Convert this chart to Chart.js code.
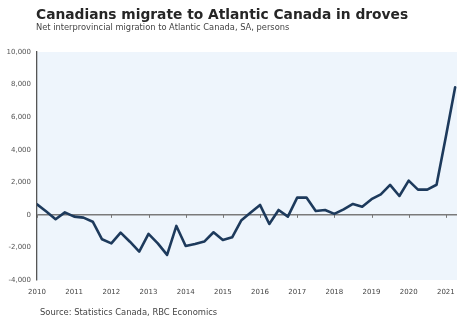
<!DOCTYPE html>
<html>
<head>
<meta charset="utf-8">
<script src="https://cdn.jsdelivr.net/npm/chart.js@4"></script>
<style>
  html, body { margin: 0; padding: 0; background: #fff; }
  #wrap { position: relative; width: 463px; height: 326px; overflow: hidden; }
  #c { position: absolute; left: 0; top: 0; }
  .txt { position: absolute; white-space: nowrap; font-family: "DejaVu Sans", sans-serif; }
  #title { left: 36px; top: 6px; font-size: 13.8px; font-weight: bold; color: #262626; }
  #sub { left: 36px; top: 22px; font-size: 8.3px; color: #444; }
  #src { left: 40px; top: 307px; font-size: 8.4px; color: #444; }
</style>
</head>
<body>
<div id="wrap">
  <canvas id="c" width="463" height="326"></canvas>
  <div class="txt" id="title">Canadians migrate to Atlantic Canada in droves</div>
  <div class="txt" id="sub">Net interprovincial migration to Atlantic Canada, SA, persons</div>
  <div class="txt" id="src">Source: Statistics Canada, RBC Economics</div>
</div>
<script>
  // quarterly, 2010Q1 - 2021Q2
  var quarters = [];
  for (var y = 2010; y <= 2021; y++) {
    for (var q = 0; q < 4; q++) quarters.push(y + q / 4);
  }
  quarters = quarters.slice(0, 46);

  var migration = [
    650, 200, -270, 150,
    -110, -170, -420, -1500,
    -1750, -1090, -1650, -2260,
    -1170, -1750, -2460, -680,
    -1910, -1790, -1640, -1070,
    -1540, -1380, -330, 150,
    610, -560, 300, -110,
    1060, 1060, 240, 300,
    60, 340, 670, 500,
    960, 1260, 1840, 1160,
    2100, 1550, 1550, 1850,
    4800, 7830
  ];

  var yearTicks = [2010, 2011, 2012, 2013, 2014, 2015, 2016, 2017, 2018, 2019, 2020, 2021];
  var yTicks = [-4000, -2000, 0, 2000, 4000, 6000, 8000, 10000];

  var points = quarters.map(function (x, i) { return { x: x, y: migration[i] }; });

  var plotBg = {
    id: 'plotBg',
    beforeDraw: function (chart) {
      var a = chart.chartArea, ctx = chart.ctx;
      ctx.save();
      ctx.fillStyle = '#eef5fc';
      ctx.fillRect(a.left, a.top, a.right - a.left, a.bottom - a.top);
      ctx.restore();
    }
  };

  var zeroTicks = {
    id: 'zeroTicks',
    beforeDatasetsDraw: function (chart) {
      var xs = chart.scales.x, ys = chart.scales.y, ctx = chart.ctx;
      var y0 = ys.getPixelForValue(0);
      ctx.save();
      ctx.strokeStyle = '#777';
      ctx.lineWidth = 1;
      yearTicks.forEach(function (v) {
        var px = Math.round(xs.getPixelForValue(v)) + 0.5;
        ctx.beginPath();
        ctx.moveTo(px, y0);
        ctx.lineTo(px, y0 + 3);
        ctx.stroke();
      });
      ctx.restore();
    }
  };

  new Chart(document.getElementById('c'), {
    type: 'line',
    data: {
      datasets: [{
        data: points,
        borderColor: '#1d3a5c',
        borderWidth: 2.6,
        pointRadius: 0,
        tension: 0,
        borderJoinStyle: 'round',
        borderCapStyle: 'round'
      }]
    },
    options: {
      responsive: false,
      animation: false,
      layout: { padding: { left: 0, right: 6, top: 52, bottom: 0 } },
      plugins: { legend: { display: false }, tooltip: { enabled: false } },
      scales: {
        x: {
          type: 'linear',
          min: 2010,
          max: 2021.3,
          afterBuildTicks: function (s) { s.ticks = yearTicks.map(function (v) { return { value: v }; }); },
          afterFit: function (s) { s.height = 46; },
          grid: { display: false, drawTicks: false },
          border: { display: false },
          ticks: {
            padding: 8,
            maxRotation: 0,
            autoSkip: false,
            color: '#444',
            font: { family: 'DejaVu Sans', size: 7 },
            callback: function (v) { return String(v); }
          }
        },
        y: {
          min: -4000,
          max: 10000,
          afterBuildTicks: function (s) { s.ticks = yTicks.map(function (v) { return { value: v }; }); },
          afterFit: function (s) { s.width = 37; },
          grid: {
            drawTicks: false,
            color: function (c) { return c.tick && c.tick.value === 0 ? '#7a7a7a' : 'rgba(0,0,0,0)'; },
            lineWidth: 1.4
          },
          border: { display: true, color: '#555', width: 1.3 },
          ticks: {
            padding: 6,
            color: '#555',
            font: { family: 'DejaVu Sans', size: 7 },
            callback: function (v) { return v.toLocaleString('en-US'); }
          }
        }
      }
    },
    plugins: [plotBg, zeroTicks]
  });
</script>
</body>
</html>
